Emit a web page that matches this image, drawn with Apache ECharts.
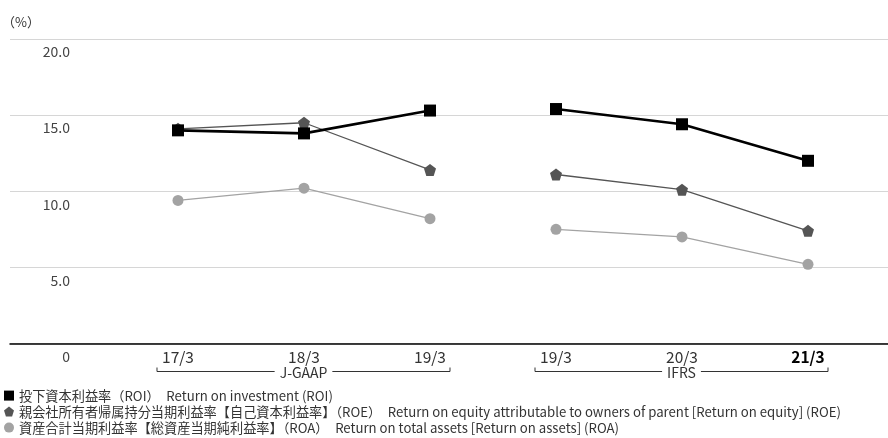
<!DOCTYPE html>
<html>
<head>
<meta charset="utf-8">
<script src="https://cdn.jsdelivr.net/npm/echarts@6/dist/echarts.min.js"></script>
<style>
html,body{margin:0;padding:0;background:#fff;}
#c{width:888px;height:438px;}
</style>
</head>
<body>
<div id="c"></div>
<script>
const categories = ['17/3', '18/3', '19/3', '19/3', '20/3', '21/3'];
const roi = [14.0, 13.8, 15.3, 15.4, 14.4, 12.0];
const roe = [14.1, 14.5, 11.4, 11.1, 10.1, 7.4];
const roa = [9.4, 10.2, 8.2, 7.5, 7.0, 5.2];
const standards = [
  { name: 'J-GAAP', from: 0, to: 2 },
  { name: 'IFRS', from: 3, to: 5 }
];
const yTicks = [0, 5, 10, 15, 20];
const names = [
  '投下資本利益率（ROI）　Return on investment (ROI)',
  '親会社所有者帰属持分当期利益率【自己資本利益率】（ROE）　Return on equity attributable to owners of parent [Return on equity] (ROE)',
  '資産合計当期利益率【総資産当期純利益率】（ROA）　Return on total assets [Return on assets] (ROA)'
];

const FONT = '"Noto Sans CJK JP", "Noto Sans", sans-serif';
const pentagon = 'path://M50,0 L100,38 L81,100 L19,100 L0,38 Z';
const colors = ['#000000', '#555555', '#a3a3a3'];

function seg(arr, s) {
  const out = [];
  for (let i = s.from; i <= s.to; i++) out.push([i, arr[i]]);
  return out;
}

const series = [];
const defs = [
  { arr: roa, name: names[2], color: colors[2], width: 1.3, symbol: 'circle', size: 11, z: 2 },
  { arr: roe, name: names[1], color: colors[1], width: 1.3, symbol: pentagon, size: 12, z: 3 },
  { arr: roi, name: names[0], color: colors[0], width: 2.6, symbol: 'rect', size: 12, z: 4 }
];
defs.forEach(d => {
  standards.forEach(s => {
    series.push({
      type: 'line', name: d.name, data: seg(d.arr, s),
      symbol: d.symbol, symbolSize: d.size, z: d.z,
      lineStyle: { color: d.color, width: d.width },
      itemStyle: { color: d.color },
      emphasis: { disabled: true }
    });
  });
});

const icons = ['rect', pentagon, 'circle'];
const legends = names.map((n, i) => ({
  orient: 'horizontal', left: -1, top: 384 + i * 16,
  itemWidth: 10, itemHeight: 10, selectedMode: false,
  textStyle: { fontSize: 13.2, color: '#333', fontFamily: FONT },
  data: [{ name: n, icon: icons[i], itemStyle: { color: colors[i] } }]
}));

const chart = echarts.init(document.getElementById('c'), null, { renderer: 'canvas' });
chart.setOption({
  animation: false,
  textStyle: { fontFamily: FONT },
  title: { text: '（%）', left: -3, top: 11, textStyle: { fontSize: 13, fontWeight: 'normal', color: '#333', fontFamily: FONT } },
  grid: { left: 10, right: 0, top: 39, bottom: 94.5, containLabel: false },
  xAxis: {
    type: 'value', min: -1.3333, max: 5.6349,
    axisLine: { show: true, lineStyle: { color: '#000', width: 1.5 } },
    axisTick: { show: false },
    splitLine: { show: false },
    axisLabel: {
      customValues: [0, 1, 2, 3, 4, 5],
      margin: 6,
      fontSize: 15.5, color: '#333', fontFamily: FONT,
      formatter: v => (v === 5 ? '{b|' + categories[v] + '}' : categories[v]),
      rich: { b: { fontSize: 15.5, fontWeight: 'bold', color: '#000', fontFamily: FONT } }
    }
  },
  yAxis: {
    type: 'value', min: 0, max: 20, interval: 5,
    axisLine: { show: false }, axisTick: { show: false },
    splitLine: { lineStyle: { color: '#d6d6d6', width: 1 } },
    axisLabel: {
      inside: true, align: 'right', margin: 60, verticalAlign: 'top',
      padding: [6, 0, 0, 0],
      fontSize: 14, color: '#444', fontFamily: FONT,
      customValues: yTicks,
      formatter: v => (v === 0 ? '0' : v.toFixed(1))
    }
  },
  legend: legends,
  series: series
});

// bracket annotations under the category labels
const by = 371.5;
const graphics = [];
standards.forEach(s => {
  const x0 = chart.convertToPixel({ gridIndex: 0 }, [s.from, 0])[0] - 21;
  const x1 = chart.convertToPixel({ gridIndex: 0 }, [s.to, 0])[0] + 20;
  graphics.push({
    type: 'polyline', silent: true,
    shape: { points: [[x0, by - 4], [x0, by], [x1, by], [x1, by - 4]] },
    style: { stroke: '#333', lineWidth: 1, fill: null }
  });
  graphics.push({
    type: 'text', silent: true, x: (x0 + x1) / 2, y: by + 1,
    style: { text: s.name, fontSize: 14, fill: '#333', fontFamily: FONT, align: 'center', verticalAlign: 'middle',
      backgroundColor: '#fff', padding: [0, 5] }
  });
});
chart.setOption({ graphic: graphics });
</script>
</body>
</html>
